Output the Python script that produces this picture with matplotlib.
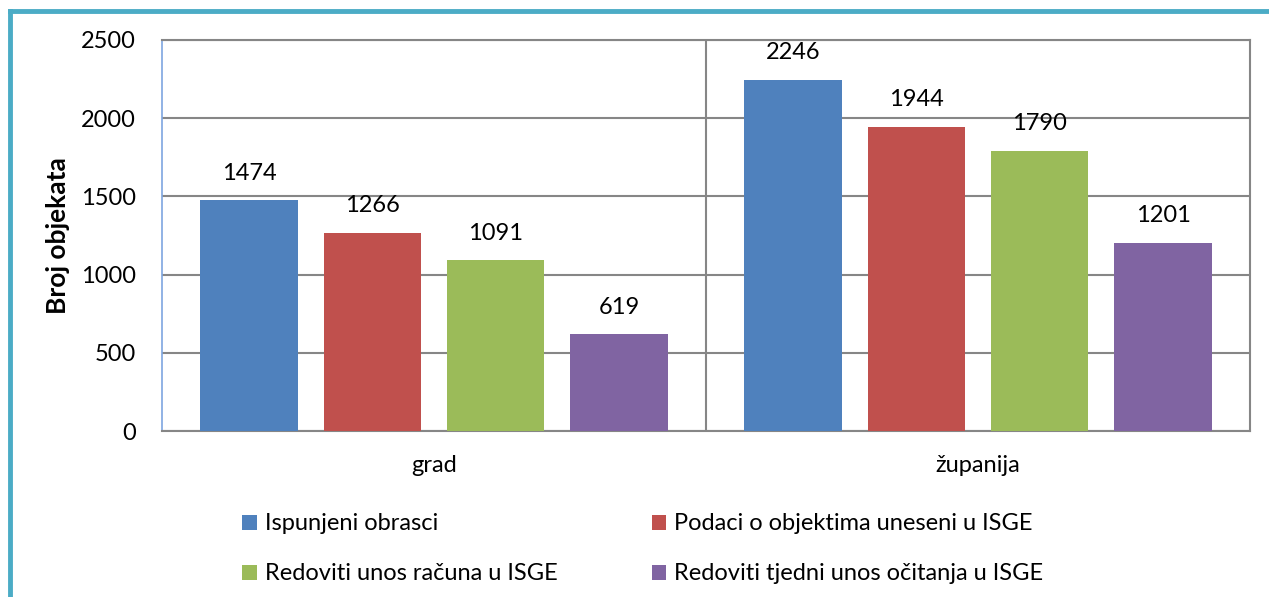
import matplotlib
matplotlib.use("Agg")
import matplotlib.pyplot as plt
from matplotlib.patches import Patch
from matplotlib.lines import Line2D
import numpy as np

categories = ["grad", "županija"]
series_names = ["Ispunjeni obrasci", "Podaci o objektima uneseni u ISGE",
                "Redoviti unos računa u ISGE", "Redoviti tjedni unos očitanja u ISGE"]
values = [
    [1474, 2246],
    [1266, 1944],
    [1091, 1790],
    [619, 1201],
]
colors = ["#4F81BD", "#C0504D", "#9BBB59", "#8064A2"]
yticks = [0, 500, 1000, 1500, 2000, 2500]

plt.rcParams['font.family'] = ['Lato', 'DejaVu Sans']
W, H = 1269, 597
fig = plt.figure(figsize=(W / 100, H / 100), dpi=100)
ax = fig.add_axes([162 / W, (H - 431) / H, (1250 - 162) / W, (431 - 40) / H])

x = np.arange(len(categories))
offsets = [-0.34, -0.113, 0.113, 0.34]
width = 0.18
for i, (name, vals, c) in enumerate(zip(series_names, values, colors)):
    bars = ax.bar(x + offsets[i], vals, width, color=c, label=name, zorder=3)
    for b, v in zip(bars, vals):
        ax.annotate(str(v), (b.get_x() + b.get_width() / 2, v), xytext=(0, 12),
                    textcoords="offset points", ha="center", va="bottom",
                    fontsize=17, color="black")

ax.set_xlim(-0.5, 1.5)
ax.set_ylim(0, 2500)
ax.set_yticks(yticks)
ax.yaxis.grid(True, color="#868686", linewidth=1.5, zorder=0)
ax.axvline(0.5, color="#868686", linewidth=1.5, zorder=1)
ax.set_xticks(x)
ax.set_xticklabels(categories, fontsize=17)
ax.tick_params(axis="x", length=0, pad=17)
ax.tick_params(axis="y", length=0, pad=19, labelsize=17)
for s in ["top", "right", "bottom"]:
    ax.spines[s].set_color("#868686")
    ax.spines[s].set_linewidth(1.5)
ax.spines["left"].set_color("#7EA6E0")
ax.spines["left"].set_linewidth(1.2)
ax.set_ylabel("Broj objekata", fontsize=19, fontweight="bold", labelpad=8)

handles = [Patch(facecolor=c) for c in colors]
order = [0, 2, 1, 3]
fig.legend([handles[i] for i in order], [series_names[i] for i in order],
           ncol=2, loc="upper left", bbox_to_anchor=(233 / W, 1 - 504 / H),
           frameon=False, fontsize=17, handlelength=0.6, handleheight=0.6,
           handletextpad=0.35, labelspacing=1.23, columnspacing=4.0,
           borderaxespad=0)

teal = "#4BACC6"
fig.add_artist(Line2D([10 / W, 10 / W], [0, 1 - 11 / H], transform=fig.transFigure,
                      color=teal, linewidth=3.5, solid_capstyle="projecting"))
fig.add_artist(Line2D([10 / W, 1], [1 - 11 / H, 1 - 11 / H], transform=fig.transFigure,
                      color=teal, linewidth=3.5, solid_capstyle="projecting"))

fig.savefig("out.png", dpi=100)
